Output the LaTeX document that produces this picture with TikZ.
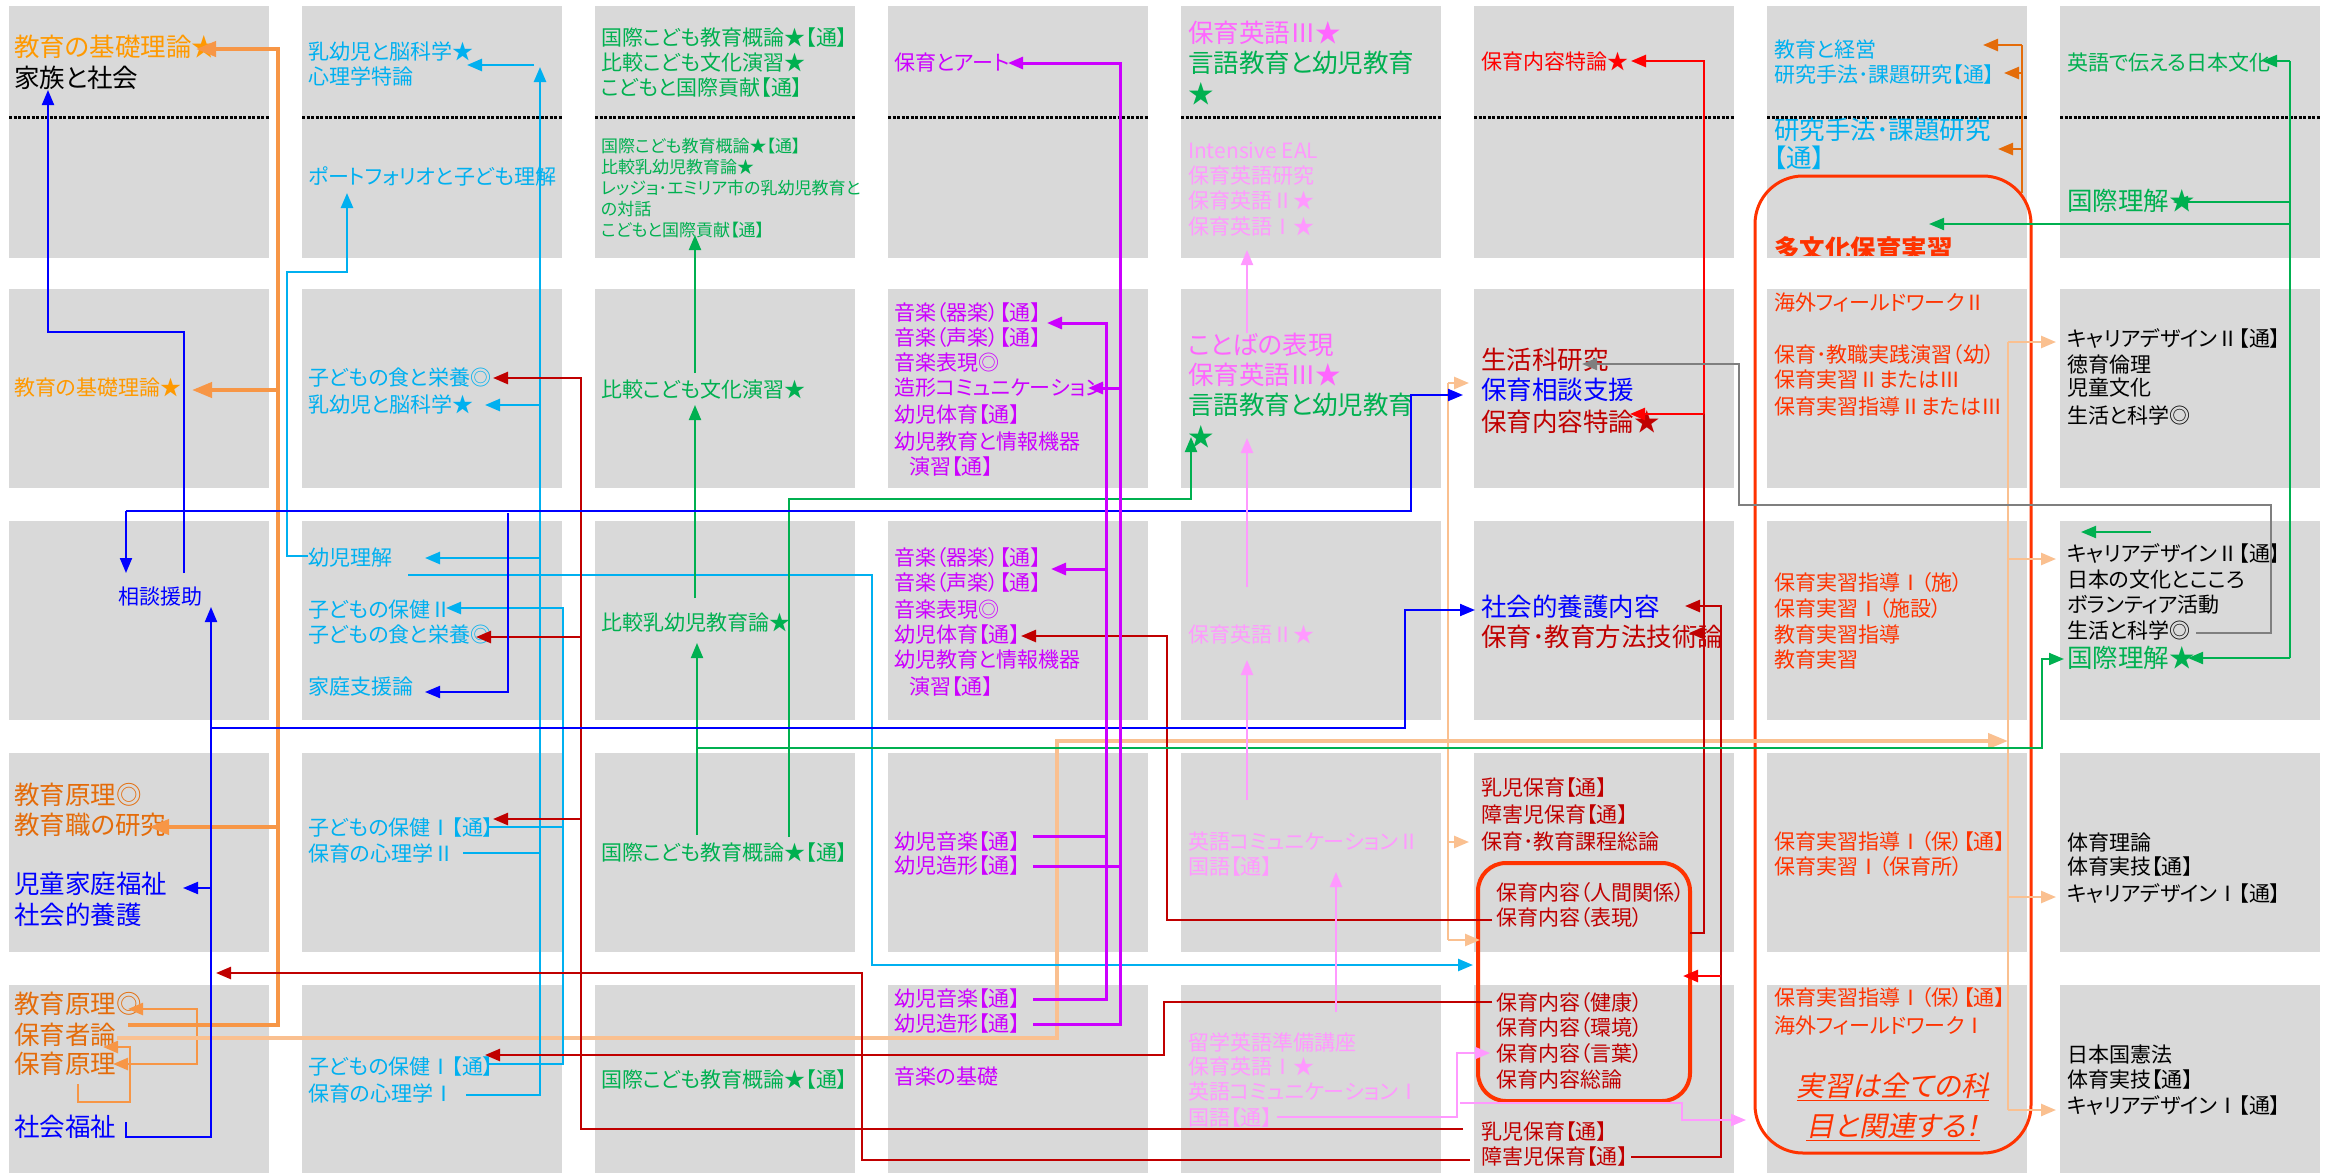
\documentclass[tikz,border=0pt]{standalone}
\usepackage{fontspec}
\setmainfont{Noto Sans CJK JP}[RawFeature={+palt}]
\newfontfamily\jpsl{Noto Sans CJK JP}[FakeSlant=0.2,RawFeature={+palt}]
\usetikzlibrary{arrows.meta}
\definecolor{boxg}{HTML}{D9D9D9}
\definecolor{orA}{HTML}{FF9900}
\definecolor{orB}{HTML}{E46C0A}
\definecolor{orL}{HTML}{F79646}
\definecolor{peachc}{HTML}{FAC090}
\definecolor{cyanc}{HTML}{00B0F0}
\definecolor{greenc}{HTML}{00B050}
\definecolor{magc}{HTML}{CC00FF}
\definecolor{pinkD}{HTML}{FF66FF}
\definecolor{pinkL}{HTML}{FF99FF}
\definecolor{dredc}{HTML}{C00000}
\definecolor{redc}{HTML}{FF0000}
\definecolor{bluec}{HTML}{0000FF}
\definecolor{oredc}{HTML}{FF3300}
\definecolor{grayc}{HTML}{7F7F7F}
\tikzset{
  tx/.style={anchor=west,inner sep=0pt,outer sep=0pt},
  L/.style={tx,font=\fontsize{25.5}{30}\selectfont},
  M/.style={tx,font=\fontsize{21}{25}\selectfont},
  S/.style={tx,font=\fontsize{17}{21}\selectfont},
  tip/.style={-{Triangle[length=15pt,width=12pt]}},
  tipL/.style={-{Triangle[length=20pt,width=15pt]}},
  dotl/.style={line width=3pt,dash pattern=on 3pt off 1.5pt},
  orl/.style={draw=orL,line width=4pt},
  orl2/.style={draw=orL,line width=2.5pt},
  peach/.style={draw=peachc,line width=4pt},
  peach2/.style={draw=peachc,line width=2.5pt},
  cy/.style={draw=cyanc,line width=2.5pt},
  dr/.style={draw=dredc,line width=2.5pt},
  rd/.style={draw=redc,line width=2.5pt},
  gn/.style={draw=greenc,line width=2pt},
  bl/.style={draw=bluec,line width=2pt},
  mg/.style={draw=magc,line width=3pt},
  pk/.style={draw=pinkL,line width=2pt},
  dor/.style={draw=orB,line width=2.5pt},
  gr/.style={draw=grayc,line width=2pt},
}
\begin{document}
\begin{tikzpicture}[x=1pt,y=-1pt]
\fill[white] (0,0) rectangle (2342,1173);
\useasboundingbox (0,0) rectangle (2342,1173);
% grid cells
\foreach \c in {0,...,7}{
  \foreach \a/\b in {6/258,289/488,521/720,753/952,985/1173}{
    \fill[boxg] ({9+293*\c},\a) rectangle ({269+293*\c},\b);
  }
  \draw[dotl] ({9+293*\c},117) -- ({269+293*\c},117);
}
% ---------------- column 1
\node[L,text=orA] (c1a) at (14,47) {教育の基礎理論★};
\node[L,text=black] (c1b) at (14,78) {家族と社会};
\node[M,text=orA] (c1c) at (14,388) {教育の基礎理論★};
\node[M,text=bluec] (c1d) at (118,597) {相談援助};
\node[L,text=orB] (c1e) at (14,795) {教育原理◎};
\node[L,text=orB] (c1f) at (14,825) {教育職の研究};
\node[L,text=bluec] (c1g) at (14,884) {児童家庭福祉};
\node[L,text=bluec] (c1h) at (14,915) {社会的養護};
\node[L,text=orB] (c1i) at (14,1004) {教育原理◎};
\node[L,text=orB] (c1j) at (14,1035) {保育者論};
\node[L,text=orB] (c1k) at (14,1064) {保育原理};
\node[L,text=bluec] (c1l) at (14,1127) {社会福祉};
% ---------------- column 2
\node[M,text=cyanc] (c2a) at (308,52) {乳幼児と脳科学★};
\node[M,text=cyanc] (c2b) at (308,76) {心理学特論};
\node[M,text=cyanc] (c2c) at (308,176) {ポートフォリオと子ども理解};
\node[M,text=cyanc] (c2d) at (308,378) {子どもの食と栄養◎};
\node[M,text=cyanc] (c2e) at (308,405) {乳幼児と脳科学★};
\node[M,text=cyanc] (c2f) at (308,558) {幼児理解};
\node[M,text=cyanc] (c2g) at (308,610) {子どもの保健Ⅱ};
\node[M,text=cyanc] (c2h) at (308,635) {子どもの食と栄養◎};
\node[M,text=cyanc] (c2i) at (308,687) {家庭支援論};
\node[M,text=cyanc] (c2j) at (308,828) {子どもの保健Ⅰ【通】};
\node[M,text=cyanc] (c2k) at (308,853) {保育の心理学Ⅱ};
\node[M,text=cyanc] (c2l) at (308,1067) {子どもの保健Ⅰ【通】};
\node[M,text=cyanc] (c2m) at (308,1093) {保育の心理学Ⅰ};
% ---------------- column 3
\node[M,text=greenc] (c3a) at (601,38) {国際こども教育概論★【通】};
\node[M,text=greenc] (c3b) at (601,63) {比較こども文化演習★};
\node[M,text=greenc] (c3c) at (601,88) {こどもと国際貢献【通】};
\node[S,text=greenc] (c3d) at (601,146) {国際こども教育概論★【通】};
\node[S,text=greenc] (c3e) at (601,167) {比較乳幼児教育論★};
\node[S,text=greenc] (c3f) at (601,188) {レッジョ･エミリア市の乳幼児教育と};
\node[S,text=greenc] (c3g) at (601,209) {の対話};
\node[S,text=greenc] (c3h) at (601,230) {こどもと国際貢献【通】};
\node[M,text=greenc] (c3i) at (601,390) {比較こども文化演習★};
\node[M,text=greenc] (c3j) at (601,623) {比較乳幼児教育論★};
\node[M,text=greenc] (c3k) at (601,853) {国際こども教育概論★【通】};
\node[M,text=greenc] (c3l) at (601,1080) {国際こども教育概論★【通】};
% ---------------- column 4
\node[M,text=magc] (c4a) at (894,63) {保育とアート};
\node[M,text=magc] (c4b) at (894,313) {音楽（器楽）【通】};
\node[M,text=magc] (c4c) at (894,338) {音楽（声楽）【通】};
\node[M,text=magc] (c4d) at (894,363) {音楽表現◎};
\node[M,text=magc] (c4e) at (894,388) {造形コミュニケーション};
\node[M,text=magc] (c4f) at (894,415) {幼児体育【通】};
\node[M,text=magc] (c4g) at (894,442) {幼児教育と情報機器};
\node[M,text=magc] (c4h) at (909,467) {演習【通】};
\node[M,text=magc] (c4i) at (894,558) {音楽（器楽）【通】};
\node[M,text=magc] (c4j) at (894,583) {音楽（声楽）【通】};
\node[M,text=magc] (c4k) at (894,610) {音楽表現◎};
\node[M,text=magc] (c4l) at (894,635) {幼児体育【通】};
\node[M,text=magc] (c4m) at (894,660) {幼児教育と情報機器};
\node[M,text=magc] (c4n) at (909,687) {演習【通】};
\node[M,text=magc] (c4o) at (894,842) {幼児音楽【通】};
\node[M,text=magc] (c4p) at (894,866) {幼児造形【通】};
\node[M,text=magc] (c4q) at (894,999) {幼児音楽【通】};
\node[M,text=magc] (c4r) at (894,1024) {幼児造形【通】};
\node[M,text=magc] (c4s) at (894,1077) {音楽の基礎};
% ---------------- column 5
\node[L,text=pinkD] (c5a) at (1188,33) {保育英語Ⅲ★};
\node[L,text=greenc] (c5b) at (1188,63) {言語教育と幼児教育};
\node[L,text=greenc] (c5c) at (1188,94) {★};
\node[M,text=pinkL] (c5d) at (1188,150) {Intensive EAL};
\node[M,text=pinkL] (c5e) at (1188,176) {保育英語研究};
\node[M,text=pinkL] (c5f) at (1188,201) {保育英語Ⅱ★};
\node[M,text=pinkL] (c5g) at (1188,227) {保育英語Ⅰ★};
\node[L,text=pinkD] (c5h) at (1188,345) {ことばの表現};
\node[L,text=pinkD] (c5i) at (1188,375) {保育英語Ⅲ★};
\node[L,text=greenc] (c5j) at (1188,405) {言語教育と幼児教育};
\node[L,text=greenc] (c5k) at (1188,437) {★};
\node[M,text=pinkL] (c5l) at (1188,635) {保育英語Ⅱ★};
\node[M,text=pinkL] (c5m) at (1188,842) {英語コミュニケーションⅡ};
\node[M,text=pinkL] (c5n) at (1188,867) {国語【通】};
\node[M,text=pinkL] (c5o) at (1188,1042) {留学英語準備講座};
\node[M,text=pinkL] (c5p) at (1188,1067) {保育英語Ⅰ★};
\node[M,text=pinkL] (c5q) at (1188,1092) {英語コミュニケーションⅠ};
\node[M,text=pinkL] (c5r) at (1188,1118) {国語【通】};
% ---------------- column 6
\node[M,text=redc] (c6a) at (1481,62) {保育内容特論★};
\node[L,text=dredc] (c6b) at (1481,360) {生活科研究};
\node[L,text=bluec] (c6c) at (1481,390) {保育相談支援};
\node[L,text=dredc] (c6d) at (1481,422) {保育内容特論★};
\node[L,text=bluec] (c6e) at (1481,607) {社会的養護内容};
\node[L,text=dredc] (c6f) at (1481,637) {保育･教育方法技術論};
\node[M,text=dredc] (c6g) at (1481,788) {乳児保育【通】};
\node[M,text=dredc] (c6h) at (1481,815) {障害児保育【通】};
\node[M,text=dredc] (c6i) at (1481,842) {保育･教育課程総論};
\node[M,text=dredc] (c6j) at (1496,893) {保育内容（人間関係）};
\node[M,text=dredc] (c6k) at (1496,918) {保育内容（表現）};
\node[M,text=dredc] (c6l) at (1496,1003) {保育内容（健康）};
\node[M,text=dredc] (c6m) at (1496,1028) {保育内容（環境）};
\node[M,text=dredc] (c6n) at (1496,1054) {保育内容（言葉）};
\node[M,text=dredc] (c6o) at (1496,1080) {保育内容総論};
\node[M,text=dredc] (c6p) at (1481,1132) {乳児保育【通】};
\node[M,text=dredc] (c6q) at (1481,1157) {障害児保育【通】};
\node[draw=oredc,line width=4pt,rounded corners=28pt,minimum width=212pt,minimum height=238pt,inner sep=0pt,outer sep=0pt,anchor=north west] (grp6) at (1478,863) {};
% ---------------- column 7
\node[M,text=cyanc] (c7a) at (1774,50) {教育と経営};
\node[M,text=cyanc] (c7b) at (1774,75) {研究手法･課題研究【通】};
\node[L,text=cyanc] (c7c) at (1774,130) {研究手法･課題研究};
\node[L,text=cyanc] (c7d) at (1774,158) {【通】};
\begin{scope}
\clip (1767,6) rectangle (2027,255);
\node[L,text=oredc,font=\fontsize{25.5}{30}\selectfont\bfseries] (c7e) at (1774,249) {多文化保育実習};
\end{scope}
\node[M,text=oredc] (c7f) at (1774,303) {海外フィールドワークⅡ};
\node[M,text=oredc] (c7g) at (1774,355) {保育･教職実践演習（幼）};
\node[M,text=oredc] (c7h) at (1774,380) {保育実習ⅡまたはⅢ};
\node[M,text=oredc] (c7i) at (1774,407) {保育実習指導ⅡまたはⅢ};
\node[M,text=oredc] (c7j) at (1774,583) {保育実習指導Ⅰ（施）};
\node[M,text=oredc] (c7k) at (1774,609) {保育実習Ⅰ（施設）};
\node[M,text=oredc] (c7l) at (1774,635) {教育実習指導};
\node[M,text=oredc] (c7m) at (1774,660) {教育実習};
\node[M,text=oredc] (c7n) at (1774,842) {保育実習指導Ⅰ（保）【通】};
\node[M,text=oredc] (c7o) at (1774,867) {保育実習Ⅰ（保育所）};
\node[M,text=oredc] (c7p) at (1774,998) {保育実習指導Ⅰ（保）【通】};
\node[M,text=oredc] (c7q) at (1774,1025) {海外フィールドワークⅠ};
\node[inner sep=0pt,text=oredc,font=\jpsl\fontsize{28}{32}\selectfont] (c7r) at (1893,1087) {\underline{実習は全ての科}};
\node[inner sep=0pt,text=oredc,font=\jpsl\fontsize{28}{32}\selectfont] (c7s) at (1893,1127) {\underline{目と関連する！}};
\node[draw=oredc,line width=3pt,rounded corners=48pt,minimum width=276pt,minimum height=977pt,inner sep=0pt,outer sep=0pt,anchor=north west] (grp7) at (1755,176) {};
% ---------------- column 8
\node[M,text=greenc] (c8a) at (2067,63) {英語で伝える日本文化};
\node[L,text=greenc] (c8b) at (2067,201) {国際理解★};
\node[M,text=black] (c8c) at (2067,338) {キャリアデザインⅡ【通】};
\node[M,text=black] (c8d) at (2067,365) {徳育倫理};
\node[M,text=black] (c8e) at (2067,388) {児童文化};
\node[M,text=black] (c8f) at (2067,415) {生活と科学◎};
\node[M,text=black] (c8g) at (2067,553) {キャリアデザインⅡ【通】};
\node[M,text=black] (c8h) at (2067,580) {日本の文化とこころ};
\node[M,text=black] (c8i) at (2067,605) {ボランティア活動};
\node[M,text=black] (c8j) at (2067,630) {生活と科学◎};
\node[L,text=greenc] (c8k) at (2067,658) {国際理解★};
\node[M,text=black] (c8l) at (2067,842) {体育理論};
\node[M,text=black] (c8m) at (2067,867) {体育実技【通】};
\node[M,text=black] (c8n) at (2067,893) {キャリアデザインⅠ【通】};
\node[M,text=black] (c8o) at (2067,1055) {日本国憲法};
\node[M,text=black] (c8p) at (2067,1080) {体育実技【通】};
\node[M,text=black] (c8q) at (2067,1105) {キャリアデザインⅠ【通】};
% ================= connectors
% orange (column 1)
\draw[orl,tipL] (128,1025) -- (278,1025) -- (278,49) -- (196,49);
\draw[orl,tipL] (278,390) -- (192,390);
\draw[orl,tipL] (278,827) -- (149,827);
\draw[orl2,{Triangle[length=15pt,width=12pt]}-{Triangle[length=15pt,width=12pt]}] (128,1009) -- (197,1009) -- (197,1064) -- (113,1064);
\draw[orl2,tip] (78,1084) -- (78,1102) -- (130,1102) -- (130,1047) -- (103,1047);
% peach
\draw[peach,tipL] (117,1038) -- (1057,1038) -- (1057,741) -- (2008,741);
\draw[peach2] (1448,383) -- (1448,940);
\draw[peach2,tip] (1448,383) -- (1469,383);
\draw[peach2,tip] (1448,842) -- (1469,842);
\draw[peach2,tip] (1448,940) -- (1480,940);
\draw[peach2] (2008,342) -- (2008,1110);
\foreach \yy in {342,559,897,1110}{\draw[peach2,tip] (2008,\yy) -- (2056,\yy);}
% cyan
\draw[cy,tip] (466,1095) -- (540,1095) -- (540,67);
\draw[cy,tip] (534,65) -- (467,65);
\draw[cy,tip] (540,405) -- (485,405);
\draw[cy,tip] (540,558) -- (425,558);
\draw[cy] (463,853) -- (540,853);
\draw[cy,tip] (487,1064) -- (563,1064) -- (563,608) -- (446,608);
\draw[cy] (487,827) -- (563,827);
\draw[cy,tip] (308,556) -- (287,556) -- (287,272) -- (347,272) -- (347,193);
\draw[cy,tip] (408,575) -- (872,575) -- (872,965) -- (1473,965);
% dark red
\draw[dr,tip] (1463,1129) -- (581,1129) -- (581,378) -- (493,378);
\draw[dr,tip] (581,637) -- (476,637);
\draw[dr,tip] (581,819) -- (493,819);
\draw[dr,tip] (1492,1002) -- (1164,1002) -- (1164,1055) -- (485,1055);
\draw[dr,tip] (1470,1160) -- (862,1160) -- (862,973) -- (216,973);
\draw[dr,tip] (1492,920) -- (1167,920) -- (1167,636) -- (1021,636);
\draw[dr] (1690,933) -- (1704,933) -- (1704,414);
\draw[rd,tip] (1704,414) -- (1704,61) -- (1631,61);
\draw[rd,tip] (1704,414) -- (1630,414);
\draw[dr,tip] (1704,633) -- (1689,633);
\draw[dr,tip] (1631,1157) -- (1721,1157) -- (1721,606) -- (1685,606);
\draw[rd,tip] (1721,976) -- (1683,976);
% gray
\draw[gr,tip] (2196,633) -- (2271,633) -- (2271,505) -- (1739,505) -- (1739,364) -- (1582,364);
% green
\draw[gn,tip] (695,373) -- (695,235);
\draw[gn,tip] (695,598) -- (695,405);
\draw[gn,tip] (697,835) -- (697,643);
\draw[gn,tip] (697,748) -- (2042,748) -- (2042,659) -- (2064,659);
\draw[gn,tip] (789,837) -- (789,499) -- (1191,499) -- (1191,437);
\draw[gn] (2290,61) -- (2290,658);
\draw[gn,tip] (2290,61) -- (2262,61);
\draw[gn,tip] (2290,658) -- (2188,658);
\draw[gn,tip] (2290,202) -- (2173,202);
\draw[gn,tip] (2290,224) -- (1929,224);
\draw[gn,tip] (2151,532) -- (2081,532);
% blue
\draw[bl,tip] (184,573) -- (184,332) -- (48,332) -- (48,90);
\draw[bl,tip] (126,511) -- (126,573);
\draw[bl,tip] (126,511) -- (1411,511) -- (1411,395) -- (1463,395);
\draw[bl,tip] (508,513) -- (508,692) -- (425,692);
\draw[bl,tip] (126,1122) -- (126,1137) -- (211,1137) -- (211,607);
\draw[bl,tip] (211,888) -- (183,888);
\draw[bl,tip] (211,728) -- (1405,728) -- (1405,610) -- (1475,610);
% magenta
\draw[mg,tip] (1033,1024) -- (1120,1024) -- (1120,63) -- (1008,63);
\draw[mg,tip] (1120,388) -- (1088,388);
\draw[mg] (1033,866) -- (1120,866);
\draw[mg,tip] (1033,999) -- (1106,999) -- (1106,323) -- (1047,323);
\draw[mg,tip] (1106,569) -- (1051,569);
\draw[mg] (1033,836) -- (1106,836);
% pink
\draw[pk,tip] (1247,333) -- (1247,250);
\draw[pk,tip] (1247,587) -- (1247,438);
\draw[pk,tip] (1247,800) -- (1247,660);
\draw[pk,tip] (1336,1012) -- (1336,872);
\draw[pk,tip] (1277,1117) -- (1457,1117) -- (1457,1053) -- (1490,1053);
\draw[pk,tip] (1460,1103) -- (1682,1103) -- (1682,1120) -- (1746,1120);
% dark orange (column 7)
\draw[dor] (2022,193) -- (2022,45);
\draw[dor,tip] (2022,45) -- (1983,45);
\draw[dor,tip] (2022,73) -- (2004,73);
\draw[dor,tip] (2022,149) -- (1998,149);
\end{tikzpicture}
\end{document}
